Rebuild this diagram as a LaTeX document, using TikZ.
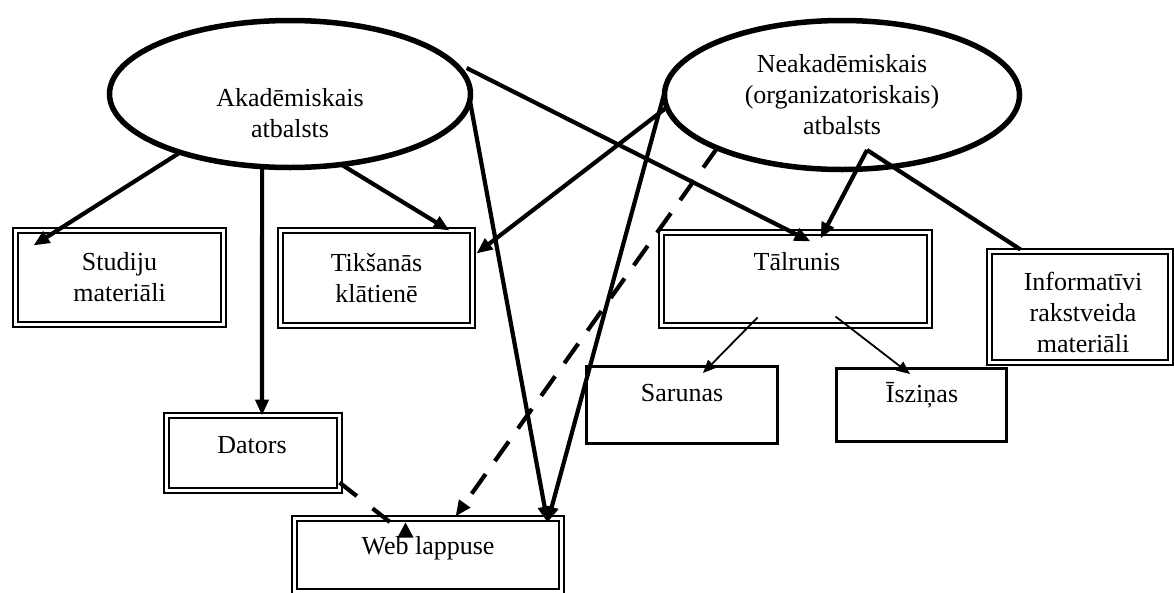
\documentclass[tikz,border=0pt]{standalone}
\usepackage{fontspec}
\setmainfont{Liberation Serif}
\usetikzlibrary{arrows.meta,shapes.geometric,calc}
\begin{document}
\begin{tikzpicture}[x=1pt,y=-1pt,
  every node/.style={font=\fontsize{26}{31}\selectfont, align=center, inner sep=0pt, outer sep=0pt},
  oval/.style={ellipse, draw, line width=5.5pt},
  dbox/.style={rectangle, draw, line width=1.9pt, double, double distance=3pt},
  sbox/.style={rectangle, draw, line width=3pt},
  conn/.style={line width=4.2pt, -{Triangle[length=16pt,width=13pt]}},
  plainconn/.style={line width=4.2pt},
  thinconn/.style={line width=1.8pt, -{Triangle[length=13pt,width=11pt]}},
  dashconn/.style={line width=4.2pt, dash pattern=on 24pt off 16pt, -{Triangle[length=16pt,width=13pt]}},
  dashplain/.style={line width=4.2pt, dash pattern=on 22pt off 20pt},
]
\useasboundingbox (0,0) rectangle (1174,592);

% ovals
\node[oval, minimum width=361pt, minimum height=147pt] (ak) at (290,94) {};
\node (akt) at (290,113) {Akadēmiskais\\atbalsts};
\node[oval, minimum width=355pt, minimum height=149pt] (nak) at (842,95)
  {Neakadēmiskais\\(organizatoriskais)\\atbalsts};

% double boxes
\node[dbox, minimum width=208pt, minimum height=94pt] (stud) at (119.5,277.5) {Studiju\\materiāli};
\node[dbox, minimum width=192pt, minimum height=95pt] (tik) at (376.5,278) {Tikšanās\\klātienē};
\node[dbox, minimum width=268pt, minimum height=93pt] (tal) at (795.5,279) {};
\node (talt) at (797,262) {Tālrunis};
\node[dbox, minimum width=181pt, minimum height=111pt] (inf) at (1080,307) {};
\node (inft) at (1083,312) {Informatīvi\\rakstveida\\materiāli};
\node[dbox, minimum width=173pt, minimum height=75pt] (dat) at (253,453) {};
\node (datt) at (252,445) {Dators};
\node[dbox, minimum width=267pt, minimum height=73pt] (web) at (428,555) {};
\node (webt) at (428,548) {Web lappuse};

% single boxes
\node[sbox, minimum width=191pt, minimum height=77pt] (sar) at (682,405) {};
\node (sart) at (682,393) {Sarunas};
\node[sbox, minimum width=170pt, minimum height=73pt] (isz) at (921.5,405) {};
\node (iszt) at (922,395) {Īsziņas};

% connectors from Akadēmiskais atbalsts
\draw[conn] (ak.208) -- ([shift={(18,15)}]stud.north west);
\draw[conn] (ak.249) -- ([xshift=9pt]dat.north);
\draw[conn] (ak.306) -- ([shift={(-23,0)}]tik.north east);
\draw[conn] ([shift={(6,-2)}]ak.8) -- ([shift={(149,9)}]tal.north west);
\draw[conn] (ak.358) -- ([shift={(-14,4)}]web.north east);

% connectors from Neakadēmiskais atbalsts
\draw[conn] (nak.184) -- ([shift={(4,23)}]tik.north east);
\draw[conn] (nak.179) -- ([shift={(-14,4)}]web.north east);
\draw[dashconn] (nak.203) -- ([shift={(161,-2)}]web.north west);
\coordinate (nakp) at ([shift={(25,55)}]nak.center);
\draw[conn] (nakp) -- ([shift={(159,6)}]tal.north west);
\draw[plainconn] (nakp) -- ([shift={(31,-2)}]inf.north west);

% from Tālrunis
\draw[thinconn] ([shift={(96,-8)}]tal.south west) -- ([shift={(116.5,6.5)}]sar.north west);
\draw[thinconn] ([shift={(174,-9)}]tal.south west) -- ([shift={(73.5,5.5)}]isz.north west);

% Dators to Web lappuse
\draw[dashplain] ([shift={(0,-8)}]dat.south east) -- ([shift={(96,4)}]web.north west);
\fill ([shift={(111,4)}]web.north west) -- ([shift={(103,19)}]web.north west) -- ([shift={(119,19)}]web.north west) -- cycle;
\end{tikzpicture}
\end{document}
